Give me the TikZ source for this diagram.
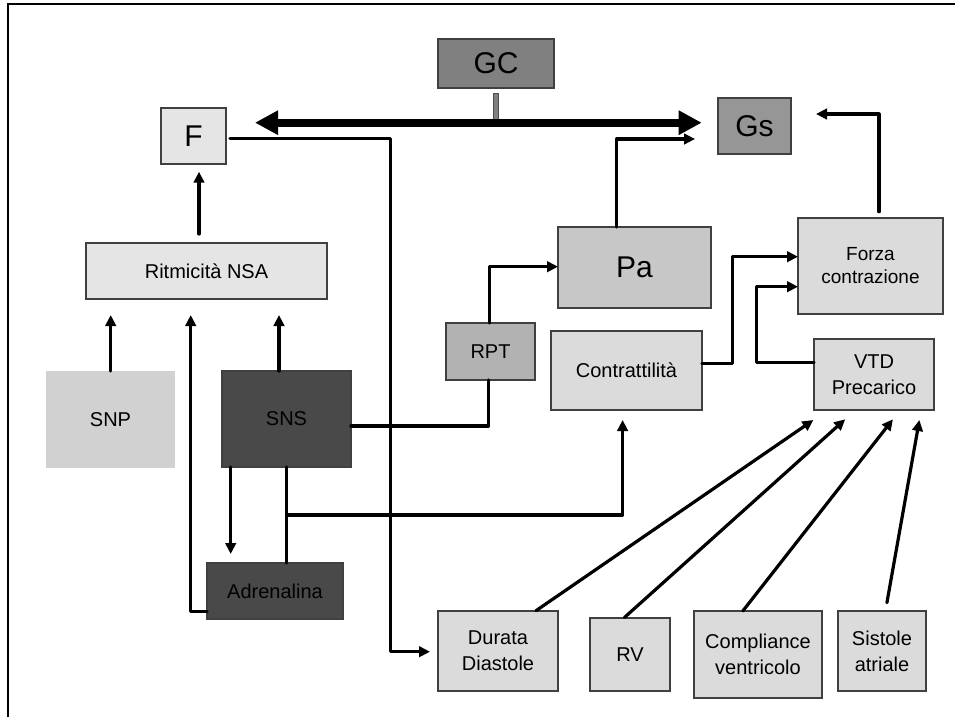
\documentclass[tikz,border=0pt]{standalone}
\usepackage{fontspec}
\setmainfont{Liberation Sans}
\usetikzlibrary{arrows.meta}
\definecolor{cGC}{gray}{0.50}
\definecolor{cGs}{gray}{0.59}
\definecolor{cLight}{gray}{0.90}
\definecolor{cPa}{gray}{0.78}
\definecolor{cMid}{gray}{0.86}
\definecolor{cRPT}{gray}{0.70}
\definecolor{cSNP}{gray}{0.82}
\definecolor{cDark}{gray}{0.285}
\begin{document}
\begin{tikzpicture}[x=1pt,y=-1pt,
  box/.style={draw=black!75, line width=1.1pt, inner sep=0pt, outer sep=0pt,
    align=center, font=\fontsize{20}{26}\selectfont},
  bigbox/.style={box, font=\fontsize{30}{36}\selectfont},
  link/.style={line width=3.2pt, line cap=round, line join=round},
  arr/.style={link, -{Triangle[length=11pt,width=10.5pt]}},
  thick arrow/.style={line width=8.4pt, {Triangle[length=23pt,width=23pt]}-{Triangle[length=23pt,width=23pt]}},
]
\useasboundingbox (0,0) rectangle (955,717);
\fill[white] (0,0) rectangle (955,717);

% frame
\draw[line width=2pt] (7.8,717) -- (7.8,4.5) -- (955,4.5);

% ---------- boxes ----------
\node[bigbox, fill=cGC, minimum width=116pt, minimum height=49pt] (GC) at (496,63.5) {GC};
\node[bigbox, fill=cLight, minimum width=65pt, minimum height=56pt] (F) at (193.5,136) {F};
\node[bigbox, fill=cGs, minimum width=73pt, minimum height=56pt] (Gs) at (754.5,126) {Gs};
\node[box, fill=cLight, minimum width=241pt, minimum height=56pt] (Rit) at (206.5,271) {Ritmicità NSA};
\node[bigbox, fill=cPa, minimum width=153pt, minimum height=81pt] (Pa) at (634.5,267.5) {Pa};
\node[box, fill=cMid, minimum width=145pt, minimum height=96pt,
  font=\fontsize{19}{23}\selectfont] (Forza) at (870.5,266) {Forza\\contrazione};
\node[box, fill=cRPT, minimum width=89pt, minimum height=57pt] (RPT) at (490.5,351.5) {RPT};
\node[box, fill=cMid, minimum width=151pt, minimum height=79pt] (Contr) at (626.5,370.5) {Contrattilità};
\node[box, fill=cMid, minimum width=120pt, minimum height=71pt] (VTD) at (874,374.5) {VTD\\Precarico};
\node[box, draw=none, fill=cSNP, minimum width=129pt, minimum height=97pt] (SNP) at (110.5,419.5) {SNP};
\node[box, fill=cDark, minimum width=129pt, minimum height=96pt] (SNS) at (286.5,419) {SNS};
\node[box, fill=cDark, minimum width=136pt, minimum height=56pt] (Adr) at (275,591) {Adrenalina};
\node[box, fill=cMid, minimum width=120pt, minimum height=80pt] (Dur) at (498,651) {Durata\\Diastole};
\node[box, fill=cMid, minimum width=80pt, minimum height=73pt] (RV) at (630,654.5) {RV};
\node[box, fill=cMid, minimum width=128pt, minimum height=87pt] (Comp) at (758,654.5) {Compliance\\ventricolo};
\node[box, fill=cMid, minimum width=88pt, minimum height=80pt] (Sis) at (882,651) {Sistole\\atriale};

% ---------- connector end points ----------
\coordinate (gcL) at (255,122.7);
\coordinate (gcR) at (701.7,122.7);
\coordinate (ritF) at (199,234);
\coordinate (fIn) at (199,171.7);
\coordinate (fOut) at (230,138.7);
\coordinate (durIn) at (430,651.7);
\coordinate (paOut) at (616.7,227);
\coordinate (gsIn1) at (695,139);
\coordinate (forzaOut) at (879,211.7);
\coordinate (gsIn2) at (816,114);
\coordinate (rptUp) at (489.3,323);
\coordinate (paIn) at (558,266.7);
\coordinate (snsR) at (351,426);
\coordinate (rptDn) at (488.5,380);
\coordinate (snpUp) at (110.7,371);
\coordinate (ritIn1) at (110.7,315);
\coordinate (adrL) at (207,611.7);
\coordinate (ritIn2) at (190.7,315);
\coordinate (snsUp) at (279,371);
\coordinate (ritIn3) at (279,315);
\coordinate (snsDn) at (230.7,467);
\coordinate (adrIn) at (230.7,554);
\coordinate (adrUp) at (286.7,563);
\coordinate (snsLow) at (286.7,467);
\coordinate (branch) at (286.7,515);
\coordinate (contrIn) at (622.6,420);
\coordinate (contrOut) at (702,363.3);
\coordinate (forzaIn1) at (798,256.7);
\coordinate (vtdOut) at (814,362.7);
\coordinate (forzaIn2) at (798,286.7);
\coordinate (durUp) at (536,610.7);
\coordinate (rvUp) at (624.4,617.5);
\coordinate (compUp) at (742.8,611);
\coordinate (sisUp) at (886.9,602.7);
\coordinate (vtdIn1) at (813.4,420);
\coordinate (vtdIn2) at (845.2,419.3);
\coordinate (vtdIn3) at (892.9,419.3);
\coordinate (vtdIn4) at (919.4,420);

% ---------- GC and its double arrow ----------
\filldraw[fill=gray, draw=black!70, line width=0.6pt] (493.4,93) rectangle (498,119);
\draw[thick arrow] (gcL) -- (gcR);

% ---------- connectors ----------
\draw[arr] (ritF) -- (fIn);
\draw[arr] (fOut) -- (390.7,138.7) -- (390.7,651.7) -- (durIn);
\draw[arr] (paOut) |- (gsIn1);
\draw[arr] (forzaOut) |- (gsIn2);
\draw[arr] (rptUp) |- (paIn);
\draw[link] (snsR) -| (rptDn);
\draw[arr] (snpUp) -- (ritIn1);
\draw[arr] (adrL) -| (ritIn2);
\draw[arr] (snsUp) -- (ritIn3);
\draw[arr] (snsDn) -- (adrIn);
\draw[link] (adrUp) -- (snsLow);
\draw[arr] (branch) -| (contrIn);
\draw[arr] (contrOut) -- (732.3,363.3) |- (forzaIn1);
\draw[arr] (vtdOut) -- (756.7,362.7) |- (forzaIn2);
\draw[arr] (durUp) -- (vtdIn1);
\draw[arr] (rvUp) -- (vtdIn2);
\draw[arr] (compUp) -- (vtdIn3);
\draw[arr] (sisUp) -- (vtdIn4);
\end{tikzpicture}
\end{document}
